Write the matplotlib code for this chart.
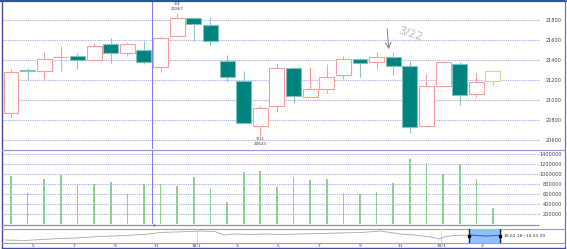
import numpy as np
import matplotlib.pyplot as plt

# daily candles, 2019/02/18 .. 2019/04/01 (last one still forming)
opens  = [20870, 21295, 21287, 21425, 21443, 21397, 21557, 21467, 21503, 21333,
          21643, 21817, 21753, 21390, 21190, 20743, 20943, 21317, 21033, 21107,
          21253, 21407, 21383, 21433, 21343, 20740, 21140, 21357, 21060, 21193]
highs  = [21310, 21317, 21477, 21543, 21473, 21573, 21617, 21577, 21587, 21640,
          21867, 21833, 21833, 21450, 21290, 20940, 21373, 21333, 21327, 21357,
          21440, 21423, 21483, 21483, 21390, 21260, 21380, 21380, 21273, 21293]
lows   = [20833, 21190, 21207, 21290, 21307, 21397, 21367, 21440, 21357, 21277,
          21643, 21593, 21550, 21190, 20767, 20643, 20877, 20973, 21033, 21073,
          21207, 21233, 21307, 21250, 20667, 20733, 21133, 20950, 21027, 21140]
closes = [21280, 21290, 21413, 21428, 21397, 21540, 21473, 21557, 21383, 21617,
          21817, 21757, 21587, 21230, 20767, 20917, 21317, 21040, 21107, 21233,
          21407, 21367, 21427, 21340, 20727, 21140, 21380, 21047, 21183, 21293]
volumes = [956000, 616000, 890000, 970000, 784000, 790000, 824000, 590000, 784000, 790000,
           756000, 936000, 704000, 436000, 1030000, 1050000, 730000, 924000, 864000, 884000,
           604000, 590000, 636000, 816000, 1284000, 1204000, 984000, 1184000, 890000, 316000]

price_ticks = [20600, 20800, 21000, 21200, 21400, 21600, 21800]
vol_ticks = [200000, 400000, 600000, 800000, 1000000, 1200000, 1400000]

# navigator (long range), x in months from 2017/04
nav_months = [-0.40, 0.58, 1.81, 3.03, 4.26, 5.49, 6.71, 7.20, 7.94, 8.68, 9.17, 9.90,
              10.15, 10.39, 10.88, 11.62, 12.36, 13.09, 14.07, 15.05, 16.04, 17.02,
              17.75, 18.00, 18.49, 18.98, 19.72, 20.45, 20.94, 21.19, 21.68, 22.41,
              23.15, 23.89]
nav_values = [19000, 18730, 19560, 20115, 20950, 21500, 22335, 23170, 23445, 23720, 24000, 23720,
              22610, 21780, 22335, 22060, 22335, 22060, 22335, 22610, 22890, 23170,
              23720, 24000, 23170, 22335, 21780, 20670, 19560, 20950, 21500, 21780,
              21225, 21500]
nav_ticks = [1, 3, 5, 7, 9, 11, 13, 15, 17, 19, 21, 23]
nav_labels = ['5', '7', '9', '11', '18/1', '3', '5', '7', '9', '11', '19/1', '3']

W, H = 567, 249
fig = plt.figure(figsize=(W / 100, H / 100), dpi=100)
fig.patch.set_facecolor('white')
small = ['Liberation Sans Narrow', 'DejaVu Sans']


def box(x0, y0, x1, y1):
    # pixel box (top-left origin) -> figure fraction
    return [x0 / W, 1 - y1 / H, (x1 - x0) / W, (y1 - y0) / H]


grid_kw = dict(color='#b4b4f4', linestyle=(0, (1.2, 0.8)), linewidth=0.8)

# ---- price panel
ax = fig.add_axes(box(3, 2, 540, 149))
ax.patch.set_visible(False)
ax.set_xlim(-0.481, 31.83)
ax.set_ylim(20510, 21980)
for p in price_ticks:
    ax.axhline(p, **grid_kw, zorder=0)

x = np.arange(len(opens))
o = np.array(opens); c = np.array(closes)
up = c >= o
wick_col = np.where(up, '#ff9c9c', '#8cc8c4')
wick_col[-1] = '#d2d2a0'
ax.vlines(x, lows, highs, colors=wick_col, linewidth=0.8, zorder=2)
body_face = np.where(up, 'white', '#00837e')
body_edge = np.where(up, '#ff9c9c', '#7fc4c0')
body_edge[-1] = '#d2d2a0'
ax.bar(x, np.maximum(np.abs(c - o), 4), bottom=np.minimum(o, c), width=0.9,
       color=body_face, edgecolor=body_edge, linewidth=0.8, zorder=3)
ax.axvline(8.48, color='#8080ee', linewidth=0.8, zorder=1)

ax.text(10, 21960, '3/4', fontsize=3, family=small, color='#444444', ha='center', va='center')
ax.text(10, 21912, '21867', fontsize=3, family=small, color='#444444', ha='center', va='center')
ax.text(15, 20605, '3/11', fontsize=3, family=small, color='#444444', ha='center', va='center')
ax.text(15, 20562, '20643', fontsize=3, family=small, color='#444444', ha='center', va='center')

ax.annotate('', xy=(22.74, 21480), xytext=(22.62, 21740),
            arrowprops=dict(arrowstyle='->', color='#808080', lw=0.7))
ax.text(24.0, 21660, '3/22', fontsize=8, color='#8a8a8a', rotation=-18,
        ha='center', va='center', fontweight='light')

ax.yaxis.tick_right()
ax.set_yticks(price_ticks)
ax.set_yticklabels([str(p) for p in price_ticks])
ax.tick_params(axis='y', length=0, pad=15.8, labelsize=3.6, labelcolor='#444444')
for lbl in ax.get_yticklabels():
    lbl.set_ha('right'); lbl.set_family(small)
ax.set_xticks([])
for s in ax.spines.values():
    s.set_visible(False)

# ---- volume panel
axv = fig.add_axes(box(3, 150, 540, 224))
axv.patch.set_visible(False)
axv.set_xlim(-0.481, 31.83)
axv.set_ylim(-10000, 1470000)
for v in vol_ticks:
    axv.axhline(v, **grid_kw, zorder=0)
axv.bar(x, volumes, width=0.1, color='#8fd08f', zorder=2)
axv.axvline(8.48, color='#8080ee', linewidth=0.8, zorder=1)
axv.yaxis.tick_right()
axv.set_yticks(vol_ticks)
axv.set_yticklabels([str(v) for v in vol_ticks])
axv.tick_params(axis='y', length=0, pad=15.8, labelsize=3.6, labelcolor='#444444')
for lbl in axv.get_yticklabels():
    lbl.set_ha('right'); lbl.set_family(small)
axv.set_xticks([])
for s in axv.spines.values():
    s.set_visible(False)

# ---- navigator
axn = fig.add_axes(box(3, 229, 540, 243))
axn.patch.set_visible(False)
axn.set_xlim(-0.5, 25.85)
axn.set_ylim(17340, 25110)
axn.axvline(9, color='#dddddd', linewidth=0.8)
axn.axvline(21, color='#dddddd', linewidth=0.8)
axn.axvspan(22.37, 23.9, color='#8fc0ff', zorder=1)
for e in (22.37, 23.9):
    axn.axvline(e, color='#1c2a60', linewidth=1.0, zorder=3)
    axn.plot([e], [21500], 's', color='black', markersize=1.6, zorder=4)
nm = np.array(nav_months); nv = np.array(nav_values)
axn.plot(nm, nv, color='#a8a8a8', linewidth=0.6, zorder=2)
sel = nm >= 22.3
axn.plot(nm[sel], nv[sel], color='#2050c0', linewidth=0.6, zorder=2)
axn.set_xticks(nav_ticks)
axn.set_xticklabels(nav_labels)
axn.tick_params(axis='x', length=0, pad=1.0, labelsize=3.2, labelcolor='#444444')
for lbl in axn.get_xticklabels():
    lbl.set_family(small)
axn.set_yticks([])
for s in axn.spines.values():
    s.set_visible(False)

# ---- frame and panel separators
bg = fig.add_axes([0, 0, 1, 1], zorder=-1)
bg.set_xlim(0, W)
bg.set_ylim(H, 0)
bg.axis('off')
bg.plot([0, W], [0.8, 0.8], color='#2b5797', linewidth=1.6)
bg.plot([2, 2], [0, H], color='#4a4aa0', linewidth=1.0)
bg.plot([565, 565], [0, H], color='#6c6ccc', linewidth=0.9)
bg.plot([2, 565], [247.5, 247.5], color='#4a4aa0', linewidth=1.0)
bg.plot([2, 565], [149.5, 149.5], color='#9a9af0', linewidth=0.9)
bg.plot([2, 538], [224.5, 224.5], color='#8888ee', linewidth=0.9)
bg.plot([2, 565], [229, 229], color='#9999dd', linewidth=0.8)
bg.plot([2, 565], [242.5, 242.5], color='#9999dd', linewidth=0.8)
bg.text(153, 226, '3', fontsize=3, family=small, color='#4040a0', va='center')
bg.text(504, 236, '19.02.18~19.03.29', fontsize=3.2, family=small, color='#333333', va='center')

fig.savefig('out.png', dpi=100)
